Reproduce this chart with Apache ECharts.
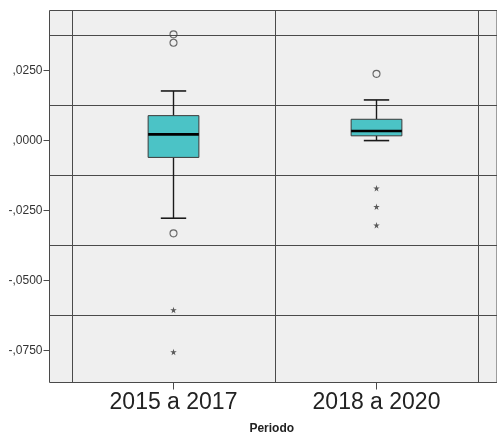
<!DOCTYPE html>
<html>
<head>
<meta charset="utf-8">
<script src="https://cdn.jsdelivr.net/npm/echarts@6/dist/echarts.min.js"></script>
<style>
html,body{margin:0;padding:0;background:#fff;}
#chart{width:497px;height:441px;}
</style>
</head>
<body>
<div id="chart"></div>
<script>
// ---- data ----
var categories = ['2015 a 2017', '2018 a 2020'];
// [low whisker, Q1, median, Q3, high whisker]
var boxStats = [
  [-0.0278, -0.0061, 0.0021, 0.0088, 0.0176],
  [-0.0001, 0.0016, 0.0033, 0.0075, 0.0144]
];
var outlierCircles = [
  [0, 0.0378], [0, 0.0348], [0, -0.0332],
  [1, 0.0237]
];
var outlierStars = [
  [0, -0.0605], [0, -0.0755],
  [1, -0.0171], [1, -0.0237], [1, -0.0303]
];
var yTickValues = [-0.075, -0.05, -0.025, 0, 0.025];
var yGridValues = [-0.0625, -0.0375, -0.0125, 0.0125, 0.0375];
var yMin = -0.08641;
var yMax = 0.04631;
var xTitle = 'Periodo';

function fmt(v) {
  var s = Math.abs(v).toFixed(4).replace(/^0\./, ',');
  return (v < -1e-9 ? '-' : '') + s;
}

var boxData = boxStats.map(function (s, i) { return [i].concat(s); });
var gridData = yGridValues.map(function (v) { return [0.5, v]; });

var lineCol = '#4a4a4a';
var textCol = '#222';
var starPath = 'path://M50,0 L61,35 L98,35 L68,57 L79,91 L50,70 L21,91 L32,57 L2,35 L39,35 Z';

var chart = echarts.init(document.getElementById('chart'), null, {renderer: 'canvas'});
chart.setOption({
  animation: false,
  backgroundColor: '#fff',
  grid: [
    {left: 49.5, top: 10.5, width: 460, height: 372, show: true,
     backgroundColor: '#efefef', borderColor: lineCol, borderWidth: 1},
    {left: 72, top: 10.5, width: 406, height: 372, show: false}
  ],
  xAxis: [
    {gridIndex: 0, type: 'value', min: 0, max: 1,
     axisLine: {show: false}, axisTick: {show: false}, axisLabel: {show: false},
     splitLine: {show: false},
     name: xTitle, nameLocation: 'middle', nameGap: 40,
     nameTextStyle: {fontFamily: 'Liberation Sans, Arial, sans-serif', fontWeight: 'bold', fontSize: 12, color: textCol,
       padding: [0, 3, 0, 0]}},
    {gridIndex: 1, type: 'category', data: categories, boundaryGap: true,
     axisLine: {show: false},
     axisTick: {show: true, length: 4, lineStyle: {color: lineCol}},
     splitLine: {show: true, lineStyle: {color: lineCol, width: 1}},
     axisLabel: {fontFamily: 'Liberation Sans, Arial, sans-serif', fontSize: 23, color: textCol, margin: 9}},
    {gridIndex: 1, type: 'category', data: categories, boundaryGap: true, position: 'bottom',
     axisLine: {show: false},
     axisTick: {show: true, alignWithLabel: true, length: 7, lineStyle: {color: lineCol}},
     splitLine: {show: false}, axisLabel: {show: false}}
  ],
  yAxis: [
    {gridIndex: 0, type: 'value', min: yMin, max: yMax,
     axisLine: {show: false},
     axisTick: {show: true, length: 6, customValues: yTickValues, lineStyle: {color: lineCol}},
     axisLabel: {customValues: yTickValues, formatter: fmt, margin: 7,
       fontFamily: 'Liberation Sans, Arial, sans-serif', fontSize: 12, color: '#333'},
     splitLine: {show: false}},
    {gridIndex: 1, type: 'value', min: yMin, max: yMax, show: false,
     splitLine: {show: false}}
  ],
  series: [
    {type: 'custom', xAxisIndex: 0, yAxisIndex: 0, data: gridData, silent: true, z: 1,
     encode: {x: 0, y: 1},
     renderItem: function (params, api) {
       var cs = params.coordSys;
       var y = Math.round(api.coord([0.5, api.value(1)])[1]) + 0.5;
       return {type: 'line', shape: {x1: cs.x, y1: y, x2: cs.x + cs.width, y2: y},
               style: {stroke: lineCol, lineWidth: 1}};
     }},
    {type: 'custom', xAxisIndex: 1, yAxisIndex: 1, data: boxData, z: 3,
     encode: {x: 0, y: [1, 2, 3, 4, 5]},
     renderItem: function (params, api) {
       var xi = api.value(0);
       var low = api.coord([xi, api.value(1)]);
       var q1 = api.coord([xi, api.value(2)]);
       var med = api.coord([xi, api.value(3)]);
       var q3 = api.coord([xi, api.value(4)]);
       var high = api.coord([xi, api.value(5)]);
       var cw = api.size([1, 0])[0];
       var bw = cw * 0.25;
       var capw = bw * 0.5;
       var x = low[0];
       var ls = {stroke: '#1a1a1a', lineWidth: 1.4};
       return {type: 'group', children: [
         {type: 'line', shape: {x1: x, y1: high[1], x2: x, y2: q3[1]}, style: ls},
         {type: 'line', shape: {x1: x, y1: q1[1], x2: x, y2: low[1]}, style: ls},
         {type: 'line', shape: {x1: x - capw / 2, y1: high[1], x2: x + capw / 2, y2: high[1]}, style: {stroke: '#1a1a1a', lineWidth: 1.6}},
         {type: 'line', shape: {x1: x - capw / 2, y1: low[1], x2: x + capw / 2, y2: low[1]}, style: {stroke: '#1a1a1a', lineWidth: 1.6}},
         {type: 'rect', shape: {x: x - bw / 2, y: q3[1], width: bw, height: q1[1] - q3[1]},
          style: {fill: '#4bc3c6', stroke: '#3a3a3a', lineWidth: 1}},
         {type: 'line', shape: {x1: x - bw / 2, y1: med[1], x2: x + bw / 2, y2: med[1]}, style: {stroke: '#000', lineWidth: 2.6}}
       ]};
     }},
    {type: 'scatter', xAxisIndex: 1, yAxisIndex: 1, data: outlierCircles, z: 4,
     symbol: 'circle', symbolSize: 7,
     itemStyle: {color: 'rgba(0,0,0,0)', borderColor: '#444', borderWidth: 1.1}},
    {type: 'scatter', xAxisIndex: 1, yAxisIndex: 1, data: outlierStars, z: 4,
     symbol: starPath, symbolSize: 6.5,
     itemStyle: {color: '#333'}}
  ]
});
</script>
</body>
</html>
